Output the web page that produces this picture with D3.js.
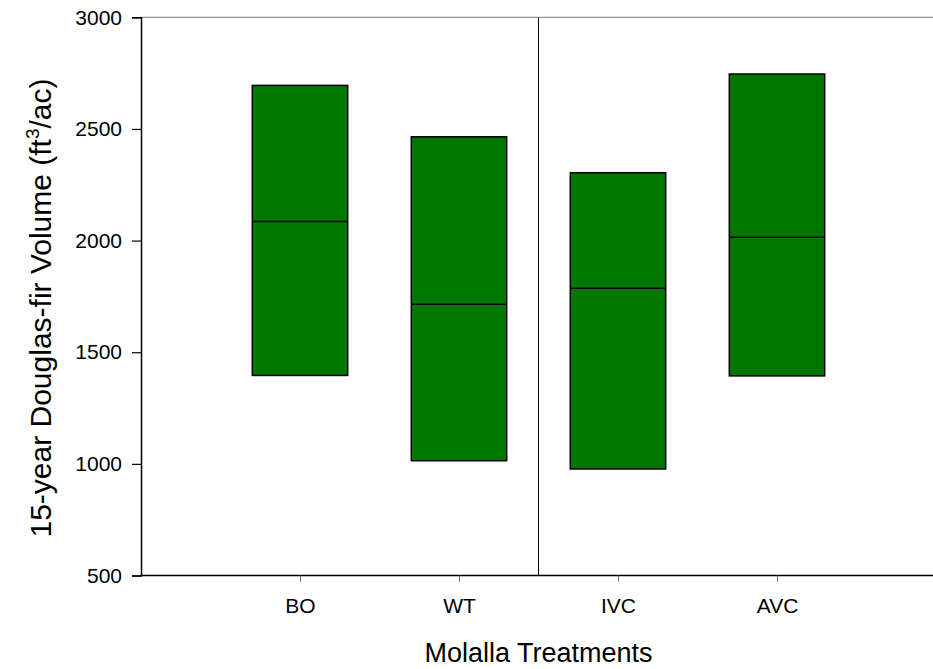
<!DOCTYPE html>
<html>
<head>
<meta charset="utf-8">
<script src="https://cdn.jsdelivr.net/npm/d3@7"></script>
<style>
  body { margin: 0; background: #fff; }
  text { font-family: "Liberation Sans", Arial, sans-serif; fill: #000; }
</style>
</head>
<body>
<div id="chart"></div>
<script>
var categories = ['BO', 'WT', 'IVC', 'AVC'];
var boxTop = [2695, 2465, 2304, 2746];
var boxMedian = [2085, 1715, 1786, 2015];
var boxBottom = [1396, 1014, 977, 1394];
var yTicks = [500, 1000, 1500, 2000, 2500, 3000];
var dividerAt = 2.5;

var svgWidth = 933, svgHeight = 669;

var svg = d3.select('#chart').append('svg')
  .attr('width', svgWidth)
  .attr('height', svgHeight);

var x = d3.scaleLinear().domain([0, 5]).range([141, 936]);
var y = d3.scaleLinear().domain([500, 3000]).range([575.5, 17.3]);
var boxW = x(0.6) - x(0);

// boxes
categories.forEach(function (c, i) {
  var cx = x(i + 1);
  svg.append('rect')
    .attr('x', cx - boxW / 2)
    .attr('y', y(boxTop[i]))
    .attr('width', boxW)
    .attr('height', y(boxBottom[i]) - y(boxTop[i]))
    .attr('fill', '#007800')
    .attr('stroke', '#000')
    .attr('stroke-width', 1.5);
  svg.append('line')
    .attr('x1', cx - boxW / 2).attr('x2', cx + boxW / 2)
    .attr('y1', y(boxMedian[i])).attr('y2', y(boxMedian[i]))
    .attr('stroke', '#000')
    .attr('stroke-width', 1.5);
});

// divider between groups
svg.append('line')
  .attr('x1', x(dividerAt)).attr('x2', x(dividerAt))
  .attr('y1', y(3000)).attr('y2', y(500))
  .attr('stroke', '#000')
  .attr('stroke-width', 1);

// top frame line
svg.append('line')
  .attr('x1', x(0)).attr('x2', svgWidth)
  .attr('y1', y(3000)).attr('y2', y(3000))
  .attr('stroke', '#777')
  .attr('stroke-width', 1);

// y axis
var yAxis = svg.append('g')
  .attr('transform', 'translate(' + x(0) + ',0)')
  .call(d3.axisLeft(y).tickValues(yTicks).tickSize(9).tickPadding(10).tickFormat(d3.format('d')));
yAxis.select('.domain').attr('stroke-width', 1.5);
yAxis.selectAll('.tick line').attr('stroke-width', 1.2);
yAxis.selectAll('text')
  .attr('font-size', 21)
  .attr('font-family', '"Liberation Sans", Arial, sans-serif');

// x axis
var xAxis = svg.append('g')
  .attr('transform', 'translate(0,' + y(500) + ')')
  .call(d3.axisBottom(x).tickValues([1, 2, 3, 4]).tickSize(6).tickPadding(17)
    .tickFormat(function (d) { return categories[d - 1]; }));
xAxis.select('.domain').attr('stroke-width', 1.5).attr('d', 'M' + x(0) + ',0H' + svgWidth);
xAxis.selectAll('.tick line').attr('stroke', '#666');
xAxis.selectAll('text')
  .attr('font-size', 21)
  .attr('font-family', '"Liberation Sans", Arial, sans-serif');

// axis titles
svg.append('text')
  .attr('x', x(2.5))
  .attr('y', 662)
  .attr('text-anchor', 'middle')
  .attr('font-size', 27)
  .text('Molalla Treatments');

var yt = svg.append('text')
  .attr('transform', 'translate(51,308) rotate(-90)')
  .attr('text-anchor', 'middle')
  .attr('font-size', 30);
yt.append('tspan').text('15-year Douglas-fir Volume (ft');
yt.append('tspan').attr('font-size', 19).attr('dy', -12).text('3');
yt.append('tspan').attr('dy', 12).text('/ac)');
</script>
</body>
</html>
